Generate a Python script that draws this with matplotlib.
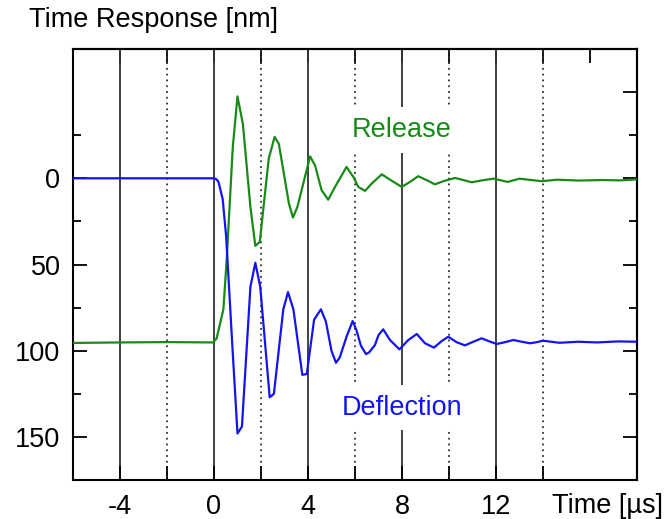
import numpy as np
import matplotlib.pyplot as plt

plt.rcParams['font.family'] = ['Liberation Sans', 'DejaVu Sans']

# Deflection (blue) - time in us, response in nm
defl_t = [-6, 0.0, 0.1, 0.19, 0.37, 0.52, 0.76, 1.0, 1.19, 1.55, 1.76, 1.97,
          2.37, 2.55, 2.95, 3.15, 3.38, 3.76, 3.95, 4.26, 4.55, 4.76, 5.0,
          5.19, 5.35, 5.64, 5.9, 6.06, 6.25, 6.47, 6.6, 6.85, 7.0, 7.2, 7.49,
          7.89, 8.27, 8.63, 8.98, 9.36, 9.69, 9.97, 10.33, 10.68, 11.0, 11.39,
          11.7, 12.03, 12.4, 12.74, 13.1, 13.45, 13.75, 14.0, 14.7, 15.5,
          16.3, 17.2, 18]
defl_y = [0, 0, 0.5, 2, 12, 34, 92, 148, 144, 63, 49, 63,
          127, 125, 76, 66, 76, 114, 113.5, 82, 76, 83, 100,
          107, 104, 91.9, 82.8, 88, 97, 102, 101, 96.7, 91, 87.6, 93.8,
          99.2, 93.8, 90.3, 95.7, 98.2, 94.4, 91.9, 95.1, 96.9, 95, 92.8,
          94.5, 96.1, 95, 93.8, 94.8, 95.7, 95, 94.2, 95.4, 94.8,
          95.2, 94.6, 94.8]

# Release (green)
rel_t = [-6, -4, -2, -0.05, 0.11, 0.4, 0.54, 0.8, 1.0, 1.23, 1.55, 1.76, 1.95,
         2.33, 2.58, 2.76, 3.19, 3.36, 3.55, 4.09, 4.3, 4.58, 4.86, 5.15,
         5.64, 5.93, 6.14, 6.43, 6.71, 7.14, 7.42, 7.99, 8.34, 8.69, 9.12,
         9.4, 9.8, 10.26, 10.6, 10.97, 11.4, 11.9, 12.5, 13.0, 13.95, 14.6,
         15.5, 16.5, 17.3, 18]
rel_y = [95.5, 95.2, 95.0, 95.2, 93, 76, 47.5, -18, -47.5, -31.6, 16.6, 39.2, 36.9,
         -11.4, -24, -20, 14.7, 22.8, 16.6, -12.7, -7.5, 6.9, 12.4, 5.0,
         -6.6, -0.8, 5.0, 7.3, 3.1, -2.3, 0.2, 5.0, 2.1, -1.2, 1.5,
         3.5, 1.5, -0.2, 1.0, 2.3, 1.2, 0.2, 2.1, 0.2, 1.7, 0.8,
         1.3, 1.0, 1.2, 0.6]

solid_grid = [-4, 0, 4, 8, 12]
dotted_grid = [-2, 2, 6, 10, 14]
x_labels = ['-4', '0', '4', '8', '12']

blue = '#1414f0'
green = '#188a18'
fs = 19.5

fig = plt.figure(figsize=(6.67, 5.19), dpi=100)
ax = fig.add_axes([0.1094, 0.0751, 0.8456, 0.8305])

for x in solid_grid:
    ax.axvline(x, color='#333333', lw=1.3, zorder=1)
for x in dotted_grid:
    ax.axvline(x, color='#333333', lw=1.3, dashes=(1, 2.2), zorder=1)

ax.plot(rel_t, rel_y, color=green, lw=1.6, zorder=3)
ax.plot(defl_t, defl_y, color=blue, lw=1.6, zorder=3)

ax.text(8, -28, 'Release', color=green, fontsize=fs, ha='center', va='center',
        zorder=2, bbox=dict(facecolor='white', edgecolor='none', pad=7))
ax.text(8, 133, 'Deflection', color=blue, fontsize=fs, ha='center', va='center',
        zorder=2, bbox=dict(facecolor='white', edgecolor='none', pad=7))

ax.set_xlim(-6, 18)
ax.set_ylim(175, -75)

ax.set_xticks(solid_grid + dotted_grid)
ax.set_xticklabels(x_labels + [''] * len(dotted_grid))
ax.set_yticks([0, 50, 100, 150])
ax.set_yticks([-25, 25, 75, 125], minor=True)
ax.tick_params(axis='x', direction='in', length=10, width=1.3, pad=10, labelsize=fs)
ax.tick_params(axis='y', which='major', direction='in', length=10, width=1.3, pad=9, labelsize=fs)
ax.tick_params(axis='y', which='minor', direction='in', length=6, width=1.3)

top = ax.secondary_xaxis('top')
top.set_xticks(np.arange(-4, 17, 2))
top.tick_params(direction='in', length=10, width=1.3, labeltop=False)
right = ax.secondary_yaxis('right')
right.set_yticks([-50, 0, 50, 100, 150])
right.set_yticks([-25, 25, 75, 125], minor=True)
right.tick_params(which='major', direction='in', length=10, width=1.3, labelright=False)
right.tick_params(which='minor', direction='in', length=6, width=1.3)

for s in list(ax.spines.values()) + [top.spines['top'], right.spines['right']]:
    s.set_linewidth(1.5)

ax.text(14.4, -0.06, 'Time [µs]', transform=ax.get_xaxis_transform(),
        fontsize=fs, ha='left', va='center')
fig.text(29 / 667, 1 - 20 / 519, 'Time Response [nm]', fontsize=fs,
         ha='left', va='center')

fig.savefig('out.png', dpi=100)
